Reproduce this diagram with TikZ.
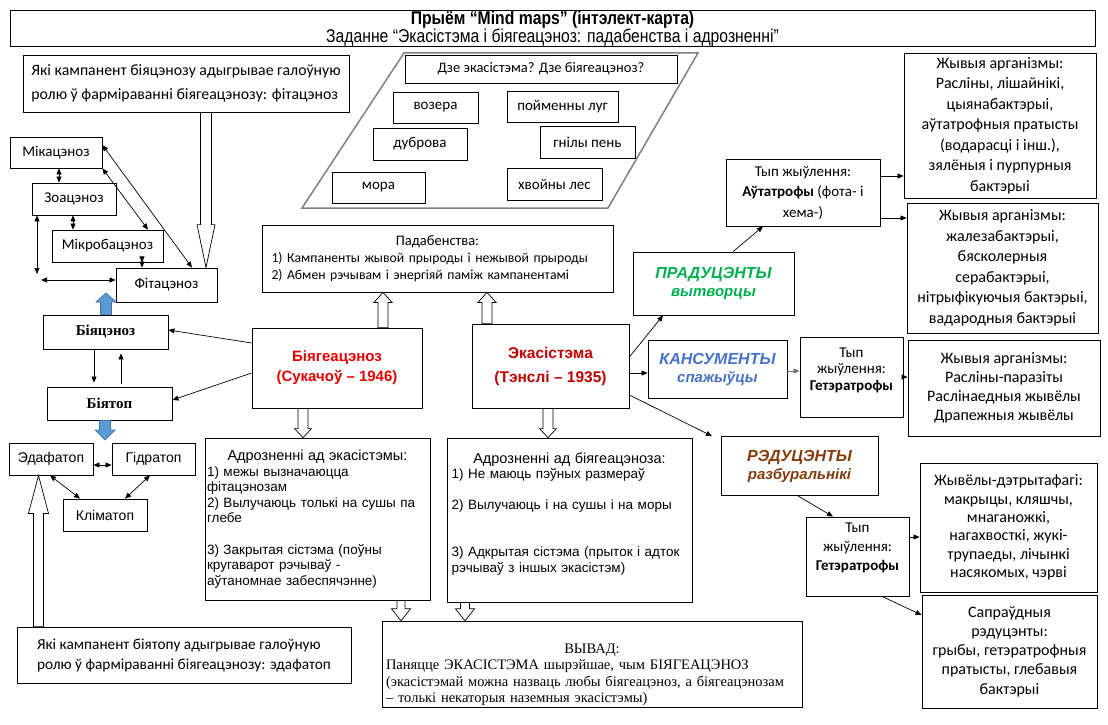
\documentclass[tikz,border=0pt]{standalone}
\usepackage{fontspec}
\setmainfont{Carlito}
\newfontfamily\arialf{Liberation Sans}
\newfontfamily\narrowf{Liberation Sans}[FakeStretch=0.85]
\newfontfamily\timesf{Liberation Serif}
\usetikzlibrary{arrows.meta,calc}
\definecolor{bgcred}{RGB}{230,0,0}
\definecolor{ekored}{RGB}{192,0,0}
\definecolor{prodgreen}{RGB}{0,176,80}
\definecolor{kansblue}{RGB}{68,114,196}
\definecolor{redbrown}{RGB}{132,60,12}
\definecolor{arrblue}{RGB}{91,155,213}
\definecolor{arrbluedk}{RGB}{65,113,156}

\begin{document}
\begin{tikzpicture}[x=1pt, y=-1pt, >={Triangle[length=6pt,width=5pt]},
    box/.style={draw, line width=0.8pt, inner sep=2pt, align=center, fill=white},
    wh/.style 2 args={minimum width=#1pt, minimum height=#2pt},
    calq/.style={font=\fontsize{15.8}{23.5}\selectfont},
    cals/.style={font=\fontsize{15}{18}\selectfont},
    calo/.style={font=\fontsize{16}{20.5}\selectfont},
    ari/.style={font=\arialf\fontsize{14}{16}\selectfont},
    aris/.style={font=\arialf\fontsize{13.5}{15.6}\selectfont},
    head/.style={font=\arialf\bfseries\fontsize{15}{20}\selectfont},
    troph/.style={font=\arialf\bfseries\itshape\fontsize{16}{18}\selectfont},
    tms/.style={font=\timesf\bfseries\fontsize{15}{18}\selectfont},
    link/.style={->, line width=0.7pt},
    both/.style={<->, line width=0.7pt},
    hollow/.style n args={3}{draw, line width=0.7pt, fill=white, to path={
        let \p1=(\tikztostart), \p2=(\tikztotarget), \p3=($(\p2)!#3pt!(\p1)$) in
        (\x1-#1pt,\y1) -- (\x1-#1pt,\y3) -- (\x1-#2pt,\y3) -- (\x2,\y2)
        -- (\x1+#2pt,\y3) -- (\x1+#1pt,\y3) -- (\x1+#1pt,\y1) -- cycle}},
    bluearrow/.style={fill=arrblue, draw=arrbluedk}]

\fill[white] (0,0) rectangle (1108,725);
\useasboundingbox (0,0) rectangle (1108,725);

\node[box, wh={1085}{36}, inner sep=0pt, font=\narrowf\fontsize{18.5}{16.5}\selectfont] (title) at (552.5,28.5)
    {\textbf{Прыём “Mind maps” (інтэлект-карта)}\\Заданне “Экасістэма і біягеацэноз: падабенства і адрозненні”};

% biocenosis side
\node[box, calq, wh={326}{57}, align=left] (qfit) at (186,83.5)
    {Які кампанент біяцэнозу адыгрывае галоўную\\ролю ў фарміраванні біягеацэнозу: фітацэноз};
\node[box, cals, wh={92}{31}] (mik) at (56,152.5) {Мікацэноз};
\node[box, cals, wh={84}{32}] (zoa) at (74,199) {Зоацэноз};
\node[box, cals, wh={111}{32}] (mikrob) at (107.5,246) {Мікробацэноз};
\node[box, cals, wh={101}{34}] (fitac) at (166.5,285) {Фітацэноз};
\node[box, tms, wh={125}{34}] (bcz) at (105.5,332) {Біяцэноз};
\node[box, tms, wh={125}{33}] (btp) at (109.5,403.5) {Біятоп};
\node[box, ari, wh={84}{32}] (edaf) at (51,459) {Эдафатоп};
\node[box, ari, wh={83}{32}] (gidr) at (153.5,459) {Гідратоп};
\node[box, ari, wh={84}{32}] (klim) at (105,515) {Кліматоп};
\node[box, font=\fontsize{15.3}{20}\selectfont, wh={334}{56}, align=left] (qedaf) at (184,655)
    {Які кампанент біятопу адыгрывае галоўную\\ролю ў фарміраванні біягеацэнозу: эдафатоп};

% examples
\draw[line width=1.5pt, black!50] (302,208) -- (404,53) -- (698,53) -- (608,208) -- cycle;
\node[box, font=\fontsize{14.5}{17}\selectfont, wh={272}{28}] (qwhere) at (541,69) {Дзе экасістэма? Дзе біягеацэноз?};
\node[box, cals, wh={85}{31}] (vozera) at (435.5,107.5) {возера};
\node[box, cals, wh={111}{31}] (lug) at (562.5,106.5) {пойменны луг};
\node[box, cals, wh={94}{32}] (dubr) at (420,144) {дуброва};
\node[box, cals, wh={95}{32}] (pen) at (587.5,142) {гнілы пень};
\node[box, cals, wh={93}{31}] (mora) at (378.5,187.5) {мора};
\node[box, cals, wh={95}{32}] (les) at (554.5,184) {хвойны лес};

% centre
\node[box, font=\fontsize{13.7}{17}\selectfont, wh={351}{67}, text width=332pt, align=left] (pad) at (437.5,258.5)
    {\makebox[\linewidth]{\fontsize{14.5}{17}\selectfont Падабенства:}\\1) Кампаненты жывой прыроды і нежывой прыроды\\2) Абмен рэчывам і энергіяй паміж кампанентамі};
\node[box, head, text=bgcred, wh={170}{80}] (bgc) at (337,368) {Біягеацэноз\\(Сукачоў – 1946)};
\node[box, font=\arialf\bfseries\fontsize{15.5}{24}\selectfont, text=ekored, wh={157}{84}] (eko) at (550.5,366) {Экасістэма\\(Тэнслі – 1935)};
\node[box, aris, wh={225}{162}, text width=221pt, align=left] (adrA) at (317.5,519)
    {\makebox[\linewidth]{\fontsize{14.5}{15.6}\selectfont Адрозненні ад экасістэмы:}\\1) межы вызначаюцца\\фітацэнозам\\2) Вылучаюць толькі на сушы па\\глебе\\[15.6pt]3) Закрытая сістэма (поўны\\кругаварот рэчываў -\\аўтаномнае забеспячэнне)};
\node[box, aris, wh={245}{164}, text width=236pt, align=left] (adrB) at (569.5,520)
    {\makebox[\linewidth]{\fontsize{14.5}{15.6}\selectfont Адрозненні ад біягеацэноза:}\\1) Не маюць пэўных размераў\\[15.6pt]2) Вылучаюць і на сушы і на моры\\[31pt]3) Адкрытая сістэма (прыток і адток\\рэчываў з іншых экасістэм)\\\mbox{}};
\node[box, font=\timesf\fontsize{14.5}{16.5}\selectfont, wh={420}{75}, text width=412pt, align=left] (vyvad) at (592,664.5)
    {\makebox[\linewidth]{\rule{0pt}{30pt}ВЫВАД:}\\Паняцце ЭКАСІСТЭМА шырэйшае, чым БІЯГЕАЦЭНОЗ\\(экасістэмай можна назваць любы біягеацэноз, а біягеацэнозам\\– толькі некаторыя наземныя экасістэмы)};

% trophic groups
\node[box, troph, text=prodgreen, wh={161}{63}] (prod) at (713.5,283.5) {ПРАДУЦЭНТЫ\\{\fontsize{15}{18}\selectfont вытворцы}};
\node[box, troph, text=kansblue, wh={139}{58}] (kans) at (717.5,369) {КАНСУМЕНТЫ\\{\fontsize{15}{18}\selectfont спажыўцы}};
\node[box, troph, text=redbrown, wh={157}{59}] (red) at (799.5,466) {РЭДУЦЭНТЫ\\{\fontsize{15}{18}\selectfont разбуральнікі}};
\node[box, font=\fontsize{15}{20.5}\selectfont, wh={154}{67}] (typA) at (803,192.5) {Тып жыўлення:\\\textbf{Аўтатрофы} (фота- і\\хема-)};
\node[box, calo, wh={192}{145}] (org1) at (1000,125.5)
    {Жывыя арганізмы:\\Расліны, лішайнікі,\\цыянабактэрыі,\\аўтатрофныя пратысты\\(водарасці і інш.),\\зялёныя і пурпурныя\\бактэрыі};
\node[box, calo, wh={191}{130}] (org2) at (1002.5,268)
    {Жывыя арганізмы:\\жалезабактэрыі,\\бясколерныя\\серабактэрыі,\\нітрыфікуючыя бактэрыі,\\вадародныя бактэрыі};
\node[box, font=\fontsize{15}{16.5}\selectfont, wh={103}{80}] (typB) at (851.5,377) {Тып\\жыўлення:\\\textbf{Гетэратрофы}\\\mbox{}};
\node[box, font=\fontsize{16}{19}\selectfont, wh={192}{96}] (org3) at (1004,388)
    {Жывыя арганізмы:\\Расліны-паразіты\\Раслінаедныя жывёлы\\Драпежныя жывёлы};
\node[box, font=\fontsize{15}{19}\selectfont, wh={103}{79}] (typC) at (857.5,556.5) {Тып\\жыўлення:\\\textbf{Гетэратрофы}\\\mbox{}};
\node[box, font=\fontsize{16}{18.4}\selectfont, wh={177}{129}] (org4) at (1008.5,527.5)
    {Жывёлы-дэтрытафагі:\\макрыцы, кляшчы,\\мнаганожкі,\\нагахвосткі, жукі-\\трупаеды, лічынкі\\насякомых, чэрві};
\node[box, font=\fontsize{16}{19.3}\selectfont, wh={175}{113}] (sapr) at (1009.5,651.5)
    {Сапраўдныя\\рэдуцэнты:\\грыбы, гетэратрофныя\\пратысты, глебавыя\\бактэрыі};

% links between cenoses
\coordinate (zbend) at (37,280);
\draw[both] (59,0 |- mik.south) -- (59,0 |- zoa.north);
\draw[both] (73,0 |- zoa.south) -- (73,0 |- mikrob.north);
\draw[both] (142,0 |- mikrob.south) -- (142,0 |- fitac.north);
\draw[both] (mik.east |- 0,145) -- (192,0 |- fitac.north);
\draw[both] (mik.south east) -- (148,0 |- mikrob.north);
\draw[both] (37,0 |- zoa.south) -- ([yshift=6pt]zbend);
\draw[both] ([xshift=4pt]zbend) -- (fitac.west |- zbend);
\draw[link] (bgc.west |- 0,343) -- (bcz.east |- 0,330);
\draw[link] (bgc.west |- 0,373) -- (btp.east |- 0,400);
\draw[link, shorten >=4pt] (94,0 |- bcz.south) -- (94,0 |- btp.north);
\draw[link, shorten >=4pt, shorten <=3pt] (121,0 |- btp.north) -- (121,0 |- bcz.south);
\draw[both] (edaf.east |- 0,465) -- (gidr.west |- 0,465);
\draw[both] (edaf.south -| 50,0) -- (klim.north -| 80,0);
\draw[both] (gidr.south -| 150,0) -- (klim.north -| 125,0);

% links of the ecosystem
\draw[link] (eko.east |- 0,357) -- (prod.south -| 663,0);
\draw[link] (eko.east |- 0,373) -- (kans.west |- 0,373);
\draw[link] (eko.east |- 0,395) -- (red.north -| 712,0);
\draw[link] (prod.north -| 733,0) -- (typA.south -| 763,0);
\draw[link] (typA.east |- 0,176) -- (org1.west |- 0,176);
\draw[link] (typA.east |- 0,218) -- (org2.west |- 0,218);
\draw[link, black!55] (kans.east |- 0,371) -- (typB.west |- 0,371);
\draw[link] (typB.east |- 0,377) -- (org3.west |- 0,377);
\draw[link] (red.south -| 798,0) -- (typC.north -| 833,0);
\draw[link] (typC.east |- 0,537) -- (org4.west |- 0,537);
\draw[link] (typC.south -| 882,0) -- (sapr.west |- 0,615);

% block arrows
\coordinate (bluetop) at (106,293);
\coordinate (bluebot) at (105,440);
\draw[hollow={5.5}{9}{43}] (206,0 |- qfit.south) to (206,0 |- fitac.north);
\draw[hollow={5}{10}{38}] (38.5,0 |- qedaf.north) to (38.5,0 |- edaf.south);
\draw[hollow={5}{9}{10}] (383,0 |- bgc.north) to (383,0 |- pad.south);
\draw[hollow={5}{9}{10}] (487,0 |- eko.north) to (487,0 |- pad.south);
\draw[hollow={5}{8.5}{9}] (303,0 |- bgc.south) to (303,0 |- adrA.north);
\draw[hollow={5}{8.5}{9}] (548,0 |- eko.south) to (548,0 |- adrB.north);
\draw[hollow={4}{9.5}{12}] (401,0 |- adrA.south) to (401,0 |- vyvad.north);
\draw[hollow={4.5}{9.5}{12}] (465,0 |- adrB.south) to (465,0 |- vyvad.north);
\draw[hollow={5.5}{10}{9}, bluearrow] (106,0 |- bcz.north) to (bluetop);
\draw[hollow={5.5}{10}{10}, bluearrow] (105,0 |- btp.south) to (bluebot);
\end{tikzpicture}
\end{document}
